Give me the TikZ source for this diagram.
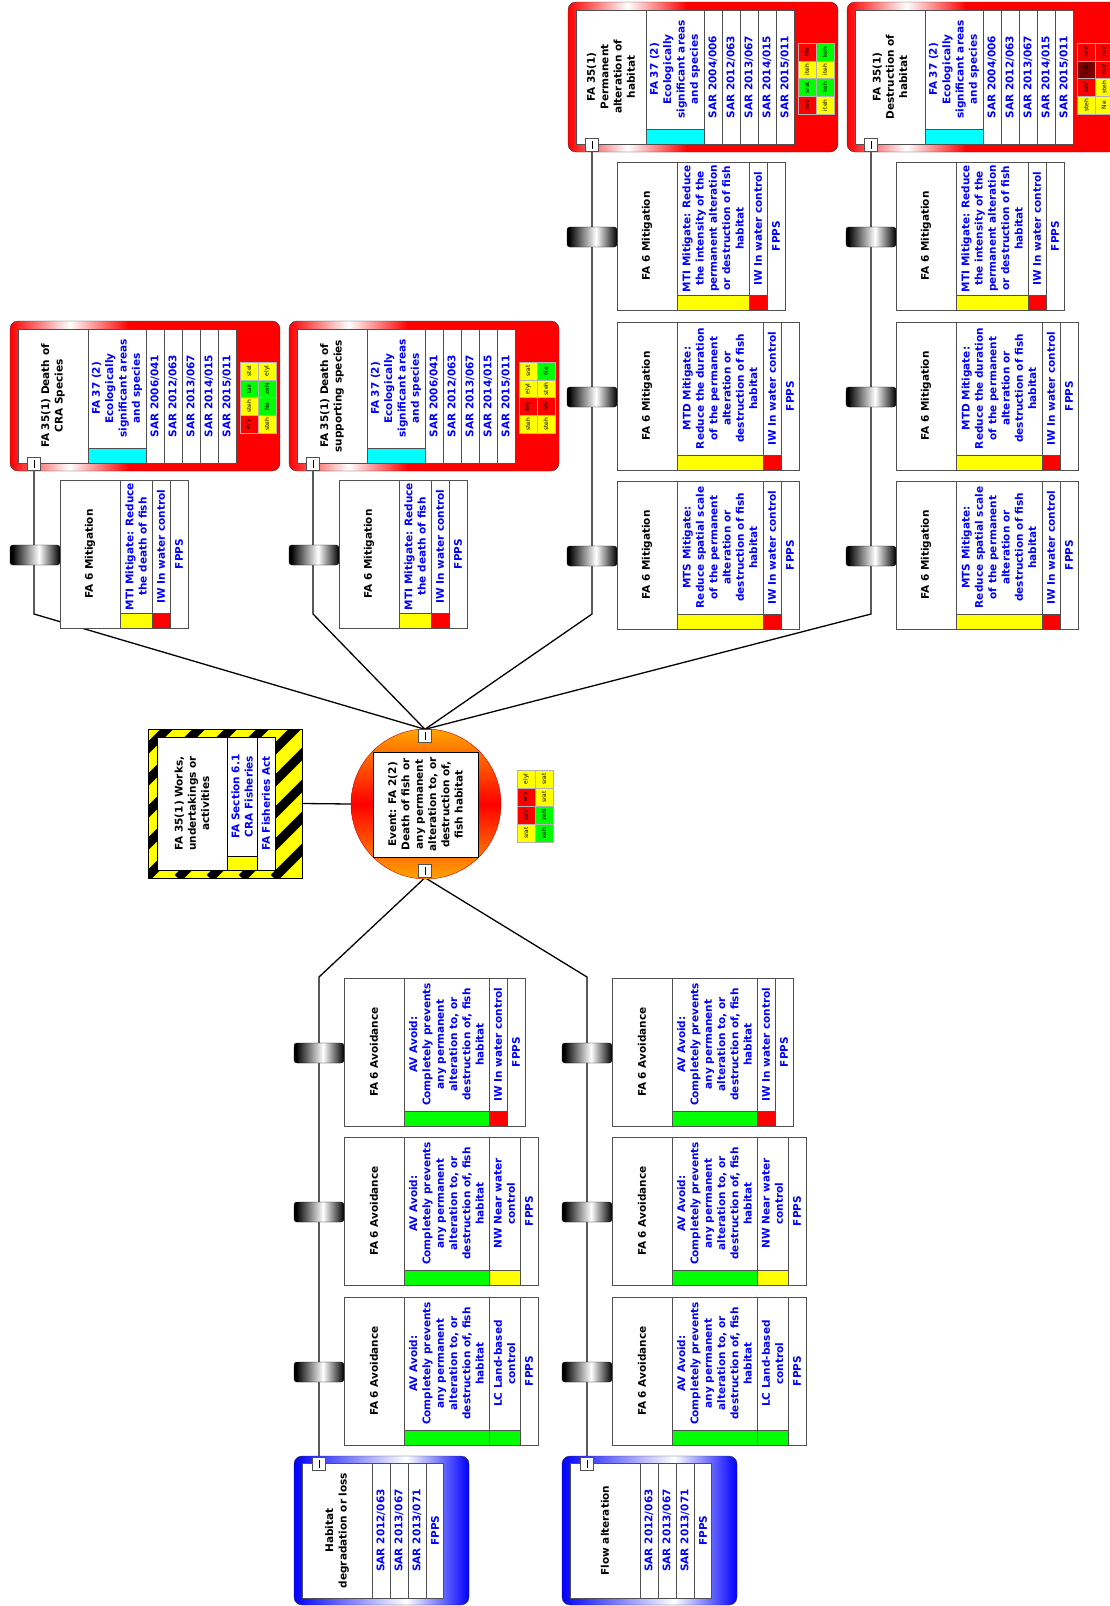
\documentclass[tikz,border=0pt]{standalone}
\usepackage{fontspec}
\setmainfont{DejaVu Sans}
\usetikzlibrary{positioning,backgrounds}
\definecolor{TxtBlue}{HTML}{0000FF}
\definecolor{Frame}{HTML}{505050}
\definecolor{Yel}{HTML}{FFFF00}
\definecolor{Rd}{HTML}{FF0000}
\definecolor{DRd}{HTML}{7A0000}
\definecolor{Grn}{HTML}{00FF00}
\definecolor{Cyn}{HTML}{00FFFF}
\definecolor{Org}{HTML}{FFA500}
\pgfdeclarehorizontalshading{conshade}{100bp}{color(0bp)=(red); color(25bp)=(red); color(36bp)=(white); color(47bp)=(red); color(100bp)=(red)}
\pgfdeclarehorizontalshading{thrshade}{100bp}{color(0bp)=(blue); color(25bp)=(blue); color(57bp)=(white); color(75bp)=(blue); color(100bp)=(blue)}
\pgfdeclarehorizontalshading{drumshade}{100bp}{color(0bp)=(black); color(27bp)=(black); color(54bp)=(white); color(75bp)=(black); color(100bp)=(black)}
\tikzset{
  cellbox/.style={draw=Frame,fill=white},
  headtxt/.style={rotate=90,align=center,inner sep=0pt,text=black,
    font=\fontsize{10.5}{13.3}\selectfont\bfseries},
  bluetxt/.style={headtxt,text=TxtBlue},
  riskcell/.style={draw=black!30,minimum width=17.75pt,minimum height=18pt,
    inner sep=0pt,rotate=90,font=\fontsize{6}{6}\selectfont},
  connsq/.style={draw=Frame,fill=white,minimum size=13pt,inner sep=0pt,
    path picture={\draw[black,line width=0.7pt]
      ([yshift=-4pt]path picture bounding box.center) --
      ([yshift=4pt]path picture bounding box.center);}},
  drum/.style={shade,shading=drumshade,draw=black,rounded corners=3pt,
    minimum width=50pt,minimum height=20pt,inner sep=0pt},
  link/.style={draw=black,line width=1.3pt}
}
% barrier: name, corner, header, main width, main text, main colour, second width, second text, second colour
\newcommand{\barrier}[9]{%
  \begin{scope}[shift={#2}]
    \pgfmathsetmacro{\bxa}{60+#4}
    \pgfmathsetmacro{\bxb}{60+#4+#7}
    \pgfmathsetmacro{\bxc}{78+#4+#7}
    \node[drum] (#1-d) at (-25,75) {};
    \draw[cellbox] (0,0) rectangle (\bxc,148);
    \draw[Frame,fill=#6] (60,133) rectangle (\bxa,148);
    \draw[Frame,fill=#9] (\bxa,133) rectangle (\bxb,148);
    \draw[Frame] (60,0) -- (60,148) (\bxa,0) -- (\bxa,148) (\bxb,0) -- (\bxb,148);
    \node[headtxt] (#1) at (30,74) {#3};
    \node[bluetxt] (#1-m) at ({(60+\bxa)/2},66.5) {#5};
    \node[bluetxt] (#1-s) at ({(\bxa+\bxb)/2},66.5) {#8};
    \node[bluetxt] (#1-f) at ({(\bxb+\bxc)/2},74) {FPPS};
  \end{scope}}
% consequence: name, line x, top y, header, SAR list, risk cells
\newcommand{\consequence}[6]{%
  \begin{scope}[shift={(#2,#3)}]
    \shadedraw[shading=conshade,draw=black!80,rounded corners=8pt] (-24,0) rectangle (246,150);
    \draw[cellbox] (-16,8) rectangle (202,142);
    \draw[Frame,fill=Cyn] (54,127) rectangle (112,142);
    \draw[Frame] (54,8) -- (54,142);
    \foreach \k in {0,...,4} \draw[Frame] ({112+18*\k},8) -- ({112+18*\k},142);
    \node[headtxt] (#1) at (19,75) {#4};
    \node[bluetxt] (#1-fa) at (83,67.5) {FA 37 (2)\\Ecologically\\significant areas\\and species};
    \foreach \s [count=\k from 0] in {#5}
      \node[bluetxt] (#1-s\k) at ({121+18*\k},75) {SAR \s};
    \foreach \cl/\tx [count=\k from 0] in {#6} {
      \pgfmathtruncatemacro{\rc}{mod(\k,2)}
      \pgfmathtruncatemacro{\rr}{\k/2}
      \node[riskcell,fill=\cl] (#1-r\k) at ({215+18*\rc},{50+17.75*\rr}) {\tx};
    }
    \node[connsq] (#1-c) at (0,142.5) {};
  \end{scope}}
% threat: name, line x, header
\newcommand{\threat}[3]{%
  \begin{scope}[shift={(#2,1456)}]
    \shadedraw[shading=thrshade,draw=black!80,rounded corners=8pt] (-25,0) rectangle (150,149);
    \draw[cellbox] (-17,7) rectangle (124,142);
    \foreach \k in {0,...,3} \draw[Frame] ({53+18*\k},7) -- ({53+18*\k},142);
    \node[headtxt] (#1) at (18,74.5) {#3};
    \foreach \s [count=\k from 0] in {SAR 2012/063,SAR 2013/067,SAR 2013/071,FPPS}
      \node[bluetxt] (#1-s\k) at ({62+18*\k},74.5) {\s};
    \node[connsq] (#1-c) at (0,7.5) {};
  \end{scope}}

\begin{document}
\begin{tikzpicture}[x=1pt,y=-1pt]
  \useasboundingbox (0,0) rectangle (1109,1606);

  % consequences
  \consequence{c1}{34}{321}{FA 35(1) Death of\\CRA Species}
    {2006/041,2012/063,2013/067,2014/015,2015/011}
    {Yel/stel,Yel/elyl,Grn/tair,Grn/zeN,Yel/steh,Grn/Ne,Rd/ery,Yel/steh}
  \consequence{c2}{313}{321}{FA 35(1) Death of\\supporting species}
    {2006/041,2012/063,2013/067,2014/015,2015/011}
    {Yel/srat,Grn/Ne,Yel/elyl,Yel/steh,Rd/ery,Rd/zeV,Yel/steh,Yel/steh}
  \consequence{c3}{592}{2}{FA 35(1)\\Permanent\\alteration of\\habitat}
    {2004/006,2012/063,2013/067,2014/015,2015/011}
    {Rd/Me,Grn/keh,Yel/iteh,Yel/iteh,Grn/srat,Grn/keh,Rd/zeV,Yel/iteh}
  \consequence{c4}{871}{2}{FA 35(1)\\Destruction of\\habitat}
    {2004/006,2012/063,2013/067,2014/015,2015/011}
    {Rd/zeV,Rd/zeV,DRd/Ext,Rd/zeV,Rd/zeV,Yel/steh,Yel/steh,Yel/Ne}

  % mitigation barriers
  \barrier{c1m}{(60,480)}{FA 6 Mitigation}{32}{MTI Mitigate: Reduce\\the death of fish}{Yel}{18}{IW In water control}{Rd}
  \barrier{c2m}{(339,480)}{FA 6 Mitigation}{32}{MTI Mitigate: Reduce\\the death of fish}{Yel}{18}{IW In water control}{Rd}
  \barrier{c3m1}{(617,162)}{FA 6 Mitigation}{72}{MTI Mitigate: Reduce\\the intensity of the\\permanent alteration\\or destruction of fish\\habitat}{Yel}{18}{IW In water control}{Rd}
  \barrier{c3m2}{(617,322)}{FA 6 Mitigation}{86}{MTD Mitigate:\\Reduce the duration\\of the permanent\\alteration or\\destruction of fish\\habitat}{Yel}{18}{IW In water control}{Rd}
  \barrier{c3m3}{(617,481)}{FA 6 Mitigation}{86}{MTS Mitigate:\\Reduce spatial scale\\of the permanent\\alteration or\\destruction of fish\\habitat}{Yel}{18}{IW In water control}{Rd}
  \barrier{c4m1}{(896,162)}{FA 6 Mitigation}{72}{MTI Mitigate: Reduce\\the intensity of the\\permanent alteration\\or destruction of fish\\habitat}{Yel}{18}{IW In water control}{Rd}
  \barrier{c4m2}{(896,322)}{FA 6 Mitigation}{86}{MTD Mitigate:\\Reduce the duration\\of the permanent\\alteration or\\destruction of fish\\habitat}{Yel}{18}{IW In water control}{Rd}
  \barrier{c4m3}{(896,481)}{FA 6 Mitigation}{86}{MTS Mitigate:\\Reduce spatial scale\\of the permanent\\alteration or\\destruction of fish\\habitat}{Yel}{18}{IW In water control}{Rd}

  % avoidance barriers
  \barrier{t1a1}{(344,978)}{FA 6 Avoidance}{85}{AV Avoid:\\Completely prevents\\any permanent\\alteration to, or\\destruction of, fish\\habitat}{Grn}{18}{IW In water control}{Rd}
  \barrier{t1a2}{(344,1137)}{FA 6 Avoidance}{85}{AV Avoid:\\Completely prevents\\any permanent\\alteration to, or\\destruction of, fish\\habitat}{Grn}{31}{NW Near water\\control}{Yel}
  \barrier{t1a3}{(344,1297)}{FA 6 Avoidance}{85}{AV Avoid:\\Completely prevents\\any permanent\\alteration to, or\\destruction of, fish\\habitat}{Grn}{31}{LC Land-based\\control}{Grn}
  \barrier{t2a1}{(612,978)}{FA 6 Avoidance}{85}{AV Avoid:\\Completely prevents\\any permanent\\alteration to, or\\destruction of, fish\\habitat}{Grn}{18}{IW In water control}{Rd}
  \barrier{t2a2}{(612,1137)}{FA 6 Avoidance}{85}{AV Avoid:\\Completely prevents\\any permanent\\alteration to, or\\destruction of, fish\\habitat}{Grn}{31}{NW Near water\\control}{Yel}
  \barrier{t2a3}{(612,1297)}{FA 6 Avoidance}{85}{AV Avoid:\\Completely prevents\\any permanent\\alteration to, or\\destruction of, fish\\habitat}{Grn}{31}{LC Land-based\\control}{Grn}

  % threats
  \threat{t1}{319}{Habitat\\degradation or loss}
  \threat{t2}{587}{Flow alteration}

  % hazard
  \begin{scope}
    \clip (148,729) rectangle (302,878);
    \fill[Yel] (148,729) rectangle (302,878);
    \foreach \k in {0,...,10} \draw[black,line width=9pt] ({-14+32*\k},878) -- ++(160,-160);
  \end{scope}
  \draw[black,line width=0.8pt] (148,729) rectangle (302,878);
  \node[minimum width=154pt,minimum height=149pt,inner sep=0pt] (hz) at (225,803.5) {};
  \draw[black,fill=white] (157,737) rectangle (275,870);
  \draw[black,fill=Yel] (227,856) rectangle (257,870);
  \draw[black] (227,737) -- (227,870) (257,737) -- (257,870);
  \node[headtxt] (hz-h) at (192,803.5) {FA 35(1) Works,\\undertakings or\\activities};
  \node[bluetxt] (hz-s) at (242,796.5) {FA Section 6.1\\CRA Fisheries};
  \node[bluetxt] (hz-a) at (266,803.5) {FA Fisheries Act};

  % top event
  \node[circle,draw=Rd!80!black,top color=Org,bottom color=Org,middle color=red,
    minimum size=150pt,inner sep=0pt] (ev) at (426,804) {};
  \draw[black,fill=white] (373,752) rectangle (478,857);
  \node[headtxt] (ev-txt) at (425.5,804.5) {Event: FA 2(2)\\Death of fish or\\any permanent\\alteration to, or\\destruction of,\\fish habitat};
  \node[connsq] (ev-t) at (425,736) {};
  \node[connsq] (ev-b) at (425,871) {};
  \foreach \cl/\tx [count=\k from 0] in {Yel/elyl,Yel/srat,Rd/ery,Yel/srat,Rd/zeV,Grn/zeN,Yel/srat,Grn/keh} {
    \pgfmathtruncatemacro{\rc}{mod(\k,2)}
    \pgfmathtruncatemacro{\rr}{\k/2}
    \node[riskcell,fill=\cl] (ev-r\k) at ({526+18*\rc},{779+18*\rr}) {\tx};
  }

  % bends
  \coordinate (c1-b) at (34,614);
  \coordinate (c2-b) at (313,614);
  \coordinate (c3-b) at (592,614);
  \coordinate (c4-b) at (871,614);
  \coordinate (t1-b) at (319,977);
  \coordinate (t2-b) at (587,977);

  \begin{scope}[on background layer]
    \foreach \nm in {c1,c2,c3,c4} \draw[link] (ev-t.north) -- (\nm-b) -- (\nm-c.south);
    \foreach \nm in {t1,t2} \draw[link] (ev-b.south) -- (\nm-b) -- (\nm-c.north);
    \draw[link] (hz.east) -- (ev.west);
  \end{scope}
\end{tikzpicture}
\end{document}
